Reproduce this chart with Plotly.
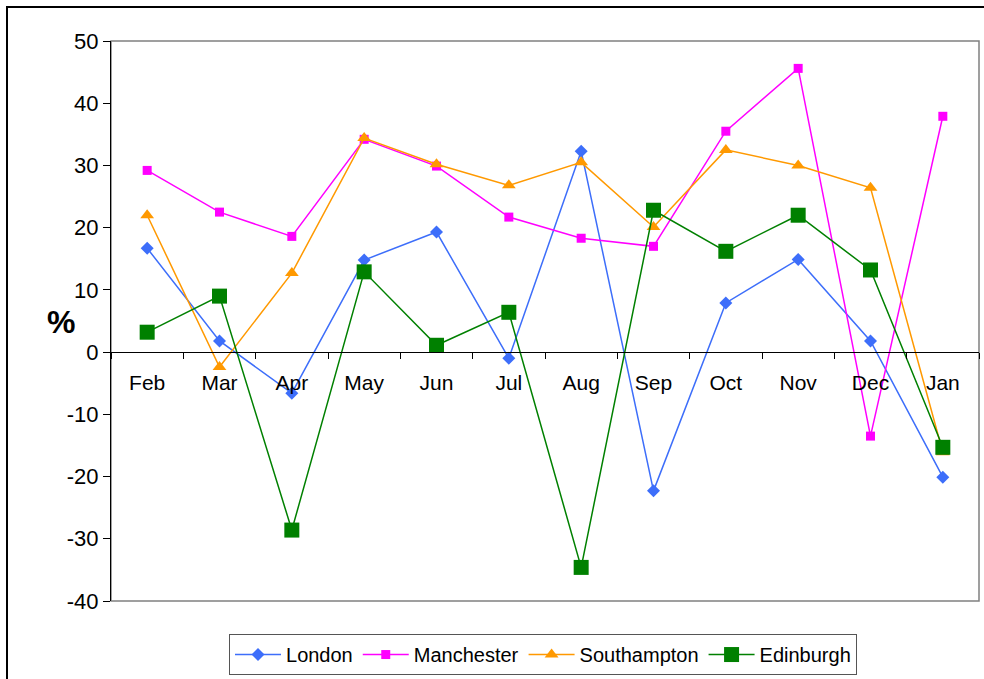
import plotly.graph_objects as go

months = ["Feb", "Mar", "Apr", "May", "Jun", "Jul", "Aug", "Sep", "Oct", "Nov", "Dec", "Jan"]

london = [16.7, 1.8, -6.6, 14.8, 19.3, -1.0, 32.3, -22.3, 7.9, 14.9, 1.8, -20.1]
manchester = [29.2, 22.5, 18.6, 34.2, 29.9, 21.7, 18.3, 17.0, 35.5, 45.6, -13.5, 37.9]
southampton = [22.0, -2.4, 12.7, 34.4, 30.2, 26.8, 30.5, 20.1, 32.5, 30.0, 26.4, -16.1]
edinburgh = [3.2, 9.0, -28.6, 12.9, 1.1, 6.4, -34.6, 22.8, 16.2, 22.0, 13.2, -15.3]

y_ticks = [50, 40, 30, 20, 10, 0, -10, -20, -30, -40]
y_tick_labels = ["50", "40", "30", "20", "10", "0", "-10", "-20", "-30", "-40"]

FONT = "Liberation Sans, Arial, sans-serif"

series = [
    ("London", london, "#3D6EFA", "diamond", 10),
    ("Manchester", manchester, "#FF00FF", "square", 9),
    ("Southampton", southampton, "#FF9900", "triangle-up", 12),
    ("Edinburgh", edinburgh, "#008000", "square", 15),
]

fig = go.Figure()
for name, vals, color, symbol, size in series:
    fig.add_trace(go.Scatter(
        x=months, y=vals, name=name, mode="lines+markers",
        line=dict(color=color, width=1.5),
        marker=dict(symbol=symbol, size=size, color=color, line=dict(width=0)),
        cliponaxis=False,
    ))

fig.update_layout(
    width=984, height=679,
    margin=dict(l=111, r=5, t=41, b=78, autoexpand=False),
    paper_bgcolor="white", plot_bgcolor="white",
    font=dict(family=FONT, size=21, color="black"),
    showlegend=True,
    legend=dict(
        orientation="h", x=0.4977, xanchor="center", y=-0.059, yanchor="top",
        bordercolor="#555555", borderwidth=1, font=dict(size=20),
        itemwidth=46, tracegroupgap=0,
    ),
    xaxis=dict(
        type="category", range=[-0.5, 11.5], anchor="free", position=4 / 9,
        showline=True, linecolor="black", linewidth=1,
        ticks="outside", tickson="boundaries", ticklen=6, tickcolor="black",
        ticklabelstandoff=12,
        showgrid=False, zeroline=False, tickfont=dict(size=21),
    ),
    yaxis=dict(
        range=[-40, 50], tickvals=y_ticks, ticktext=y_tick_labels, showgrid=False,
        showline=True, linecolor="black", linewidth=1,
        ticks="outside", ticklen=7, tickcolor="black",
        zeroline=False, tickfont=dict(size=22),
    ),
    shapes=[
        # plot-area frame
        dict(type="rect", xref="paper", yref="paper", x0=0, x1=1, y0=0, y1=1,
             line=dict(color="#808080", width=1.5), layer="below"),
        # outer chart border
        dict(type="rect", xref="paper", yref="paper",
             x0=(7 - 111) / 868, x1=(1150 - 111) / 868,
             y0=(601 - 800) / 560, y1=(601 - 7) / 560,
             line=dict(color="black", width=2)),
    ],
    annotations=[
        dict(text="<b>%</b>", xref="paper", yref="paper",
             x=(45 - 111) / 868, y=(601 - 322) / 560,
             showarrow=False, font=dict(size=32, family=FONT)),
    ],
)

fig.write_html("out.html")
